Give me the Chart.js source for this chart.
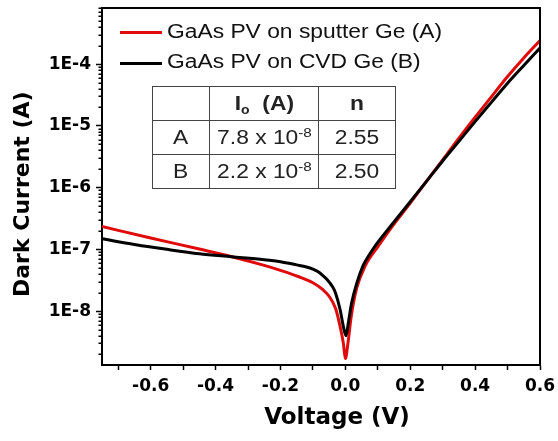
<!DOCTYPE html>
<html>
<head>
<meta charset="utf-8">
<title>Dark current vs voltage</title>
<script src="https://cdn.jsdelivr.net/npm/chart.js@4.4.1/dist/chart.umd.min.js"></script>
<style>
  body { margin: 0; background: #fff; }
  #wrap { position: relative; width: 558px; height: 441px; }
  #chart { position: absolute; left: 0; top: 0; }
  .key-line { position: absolute; left: 120px; width: 42px; height: 3px; }
  .key-text {
    position: absolute; left: 167px;
    font: 19.5px "Liberation Sans", Arial, sans-serif; line-height: 20px;
    white-space: nowrap; color: #111;
    transform: scaleX(1.17); transform-origin: left top;
  }
  #params {
    position: absolute; left: 152px; top: 86px;
    border-collapse: collapse; table-layout: fixed;
    font: 19.5px "Liberation Sans", Arial, sans-serif; color: #222;
  }
  #params td { border: 1px solid #444; height: 33px; padding: 0; text-align: center; vertical-align: middle; }
  #params span { display: inline-block; transform: scaleX(1.17); white-space: nowrap; }
  #params sup { font-size: 13px; vertical-align: 7px; line-height: 0; }
  #params sub { font-size: 12px; vertical-align: -4px; line-height: 0; }
</style>
</head>
<body>
<div id="wrap">
  <canvas id="chart" width="558" height="441"></canvas>
  <div class="key-line" style="top:30.5px;background:#e00a0a"></div>
  <div class="key-text" style="top:20.5px">GaAs PV on sputter Ge (A)</div>
  <div class="key-line" style="top:61.5px;background:#000"></div>
  <div class="key-text" style="top:51px">GaAs PV on CVD Ge (B)</div>
  <table id="params">
    <colgroup><col style="width:57px"><col style="width:109px"><col style="width:77px"></colgroup>
    <tr><td></td><td><span><b>I<sub>o</sub>&nbsp; (A)</b></span></td><td><span><b>n</b></span></td></tr>
    <tr><td><span>A</span></td><td><span>7.8 x 10<sup>-8</sup></span></td><td><span>2.55</span></td></tr>
    <tr><td><span>B</span></td><td><span>2.2 x 10<sup>-8</sup></span></td><td><span>2.50</span></td></tr>
  </table>
</div>
<script>
// sample A: GaAs PV on sputter Ge
const voltageA = [-0.75, -0.6, -0.45, -0.35, -0.25, -0.2, -0.145, -0.1, -0.07, -0.05, -0.03, -0.016, -0.006, 0, 0.008, 0.018, 0.035, 0.062, 0.08, 0.1, 0.143, 0.2, 0.25, 0.3, 0.35, 0.4, 0.45, 0.5, 0.55, 0.6];
const currentA = [2.34e-7, 1.53e-7, 1.01e-7, 7.6e-8, 5.5e-8, 4.57e-8, 3.63e-8, 2.88e-8, 2.24e-8, 1.74e-8, 1.1e-8, 5.6e-9, 3.0e-9, 1.7e-9, 3.0e-9, 8.1e-9, 2.35e-8, 5.5e-8, 7.9e-8, 1.1e-7, 2.29e-7, 5.6e-7, 1.26e-6, 2.8e-6, 6.3e-6, 1.38e-5, 2.95e-5, 6.3e-5, 1.26e-4, 2.4e-4];

// sample B: GaAs PV on CVD Ge
const voltageB = [-0.75, -0.65, -0.55, -0.45, -0.35, -0.25, -0.2, -0.15, -0.12, -0.1, -0.085, -0.07, -0.055, -0.04, -0.03, -0.016, -0.006, 0.002, 0.009, 0.019, 0.035, 0.055, 0.07, 0.09, 0.143, 0.2, 0.25, 0.3, 0.35, 0.4, 0.45, 0.5, 0.55, 0.6];
const currentB = [1.48e-7, 1.2e-7, 1.0e-7, 8.5e-8, 7.6e-8, 6.8e-8, 6.3e-8, 5.6e-8, 5.19e-8, 4.79e-8, 4.37e-8, 3.8e-8, 3.2e-8, 2.51e-8, 1.95e-8, 1.05e-8, 5.6e-9, 4.0e-9, 6.3e-9, 1.32e-8, 2.8e-8, 5.5e-8, 7.6e-8, 1.1e-7, 2.5e-7, 5.9e-7, 1.26e-6, 2.7e-6, 5.6e-6, 1.17e-5, 2.4e-5, 4.9e-5, 9.5e-5, 1.82e-4];

const xTickValues = [-0.7, -0.6, -0.5, -0.4, -0.3, -0.2, -0.1, 0, 0.1, 0.2, 0.3, 0.4, 0.5, 0.6];
const xLabelled = [-0.6, -0.4, -0.2, 0, 0.2, 0.4, 0.6];
const yDecades = [1e-8, 1e-7, 1e-6, 1e-5, 1e-4];
const yLabels = ["1E-8", "1E-7", "1E-6", "1E-5", "1E-4"];
const yMinorFactors = [2, 3, 4, 5, 6, 7, 8, 9];
const xRange = [-0.75, 0.6];
const yRange = [1.34e-9, 8.1e-4];

const tickFont = { family: "DejaVu Sans", weight: "bold", size: 17 };

// minor y ticks (shorter) and the top/right frame
const frameAndMinor = {
  id: "frameAndMinor",
  afterDraw(chart) {
    const { ctx, chartArea: a, scales } = chart;
    const y = scales.y;
    ctx.save();
    ctx.strokeStyle = "#000";
    ctx.lineWidth = 1.5;
    ctx.beginPath();
    [1e-9].concat(yDecades).forEach((d) => {
      yMinorFactors.forEach((f) => {
        const v = d * f;
        if (v < yRange[0] || v > yRange[1]) return;
        const py = Math.round(y.getPixelForValue(v)) + 0.25;
        ctx.moveTo(a.left - 3.5, py);
        ctx.lineTo(a.left, py);
      });
    });
    ctx.stroke();
    ctx.lineWidth = 2;
    ctx.beginPath();
    ctx.moveTo(a.left, a.top);
    ctx.lineTo(a.right, a.top);
    ctx.lineTo(a.right, a.bottom);
    ctx.stroke();
    ctx.restore();
  },
};

new Chart(document.getElementById("chart"), {
  type: "line",
  data: {
    datasets: [
      {
        label: "GaAs PV on sputter Ge (A)",
        data: voltageA.map((v, i) => ({ x: v, y: currentA[i] })),
        borderColor: "#e00a0a",
        borderWidth: 3,
        pointRadius: 0,
        cubicInterpolationMode: "monotone",
        order: 1,
      },
      {
        label: "GaAs PV on CVD Ge (B)",
        data: voltageB.map((v, i) => ({ x: v, y: currentB[i] })),
        borderColor: "#000",
        borderWidth: 3,
        pointRadius: 0,
        cubicInterpolationMode: "monotone",
        order: 0,
      },
    ],
  },
  options: {
    responsive: false,
    animation: false,
    layout: { padding: { left: 0, right: 18, top: 8, bottom: 0 } },
    plugins: { legend: { display: false }, tooltip: { enabled: false } },
    scales: {
      x: {
        type: "linear",
        min: xRange[0],
        max: xRange[1],
        afterBuildTicks: (s) => { s.ticks = xTickValues.map((v) => ({ value: v })); },
        afterFit: (s) => { s.height = 76; s.paddingLeft = 0; s.paddingRight = 0; },
        ticks: {
          autoSkip: false,
          maxRotation: 0,
          padding: 6,
          color: "#000",
          font: tickFont,
          callback: (v) => {
            const l = xLabelled.find((t) => Math.abs(t - v) < 1e-6);
            return l === undefined ? "" : l.toFixed(1);
          },
        },
        grid: { drawOnChartArea: false, tickLength: 5, tickWidth: 1.5, tickColor: "#000" },
        border: { color: "#000", width: 2 },
        title: {
          display: true,
          text: "    Voltage (V)",
          color: "#000",
          font: { family: "DejaVu Sans", weight: "bold", size: 23 },
          padding: { top: 0, bottom: 9 },
        },
      },
      y: {
        type: "logarithmic",
        min: yRange[0],
        max: yRange[1],
        afterBuildTicks: (s) => { s.ticks = yDecades.map((v) => ({ value: v, major: true })); },
        afterFit: (s) => { s.width = 102; s.paddingTop = 0; s.paddingBottom = 0; },
        ticks: {
          autoSkip: false,
          padding: 5,
          color: "#000",
          font: tickFont,
          callback: (v, i) => yLabels[i],
        },
        grid: { drawOnChartArea: false, tickLength: 6, tickWidth: 1.5, tickColor: "#000" },
        border: { color: "#000", width: 2 },
        title: {
          display: true,
          text: "Dark Current (A)  ",
          color: "#000",
          font: { family: "DejaVu Sans", weight: "bold", size: 22 },
          padding: { top: 10, bottom: 0 },
        },
      },
    },
  },
  plugins: [frameAndMinor],
});
</script>
</body>
</html>
